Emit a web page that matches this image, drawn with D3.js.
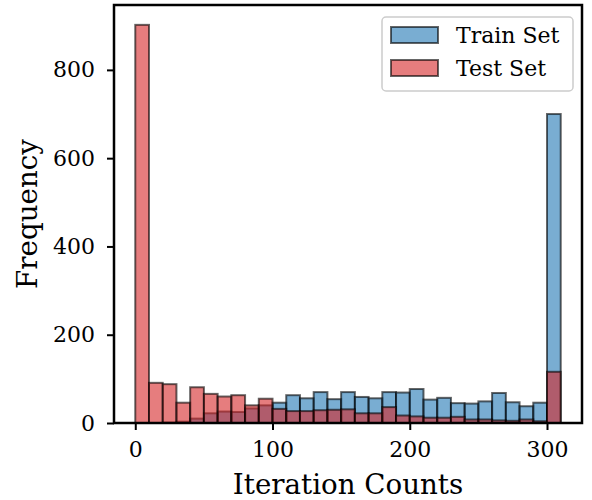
<!DOCTYPE html>
<html>
<head>
<meta charset="utf-8">
<script src="https://cdn.jsdelivr.net/npm/d3@7"></script>
<style>
  body { margin: 0; background: #fff; }
  text { font-family: "DejaVu Serif", serif; }
</style>
</head>
<body>
<svg id="chart"></svg>
<script>
// bin left edges (width 10)
var binStarts = [0,10,20,30,40,50,60,70,80,90,100,110,120,130,140,150,160,170,180,190,200,210,220,230,240,250,260,270,280,290,300];
var trainCounts = [0,0,1,3,10,22,26,25,33,40,46,63,56,70,54,70,59,56,70,69,77,53,57,45,44,49,68,47,38,46,700];
var testCounts = [902,91,88,46,81,66,60,63,40,55,32,27,27,29,30,31,22,22,36,17,15,12,12,14,8,8,6,5,8,4,116];
var xTicks = [0,100,200,300];
var yTicks = [0,200,400,600,800];
var seriesNames = ["Train Set","Test Set"];
var seriesColors = ["#1f77b4","#d62728"];
var binWidth = 10;

var W = 592, H = 500;
var margin = {top: 5, right: 10, bottom: 77, left: 114},
    width = W - margin.left - margin.right,
    height = H - margin.top - margin.bottom;

var svg = d3.select("#chart").attr("width", W).attr("height", H);
var g = svg.append("g")
    .attr("transform", "translate(" + margin.left + "," + margin.top + ")");

// set the ranges
var x = d3.scaleLinear().domain([-15.5, 325.5]).range([0, width]);
var y = d3.scaleLinear().domain([0, 947]).range([height, 0]);

// bars: train first, test drawn over it
[trainCounts, testCounts].forEach(function(counts, s) {
    g.selectAll(".bar" + s)
        .data(binStarts)
        .enter().append("rect")
        .attr("class", "bar" + s)
        .attr("x", function(d) { return x(d); })
        .attr("width", function(d) { return x(d + binWidth) - x(d); })
        .attr("y", function(d, i) { return y(counts[i]); })
        .attr("height", function(d, i) { return y(0) - y(counts[i]); })
        .attr("fill", seriesColors[s])
        .attr("fill-opacity", 0.6)
        .attr("stroke", "#000")
        .attr("stroke-opacity", 0.6)
        .attr("stroke-width", 2);
});

// axes
var xAxis = g.append("g")
    .attr("transform", "translate(0," + height + ")")
    .call(d3.axisBottom(x).tickValues(xTicks).tickSize(7).tickPadding(11));
var yAxis = g.append("g")
    .call(d3.axisLeft(y).tickValues(yTicks).tickSize(7).tickPadding(12));

[xAxis, yAxis].forEach(function(a) {
    a.select(".domain").remove();
    a.selectAll(".tick line").attr("stroke", "#000").attr("stroke-width", 2);
    a.selectAll(".tick text")
        .attr("fill", "#000")
        .style("font-size", "22px")
        .style("font-family", "DejaVu Serif");
});

// spines
g.append("rect")
    .attr("x", 0).attr("y", 0)
    .attr("width", width).attr("height", height)
    .attr("fill", "none")
    .attr("stroke", "#000")
    .attr("stroke-width", 2.5);

// axis labels
svg.append("text")
    .attr("x", margin.left + width / 2)
    .attr("y", 494)
    .attr("text-anchor", "middle")
    .style("font-size", "27.7px")
    .text("Iteration Counts");

svg.append("text")
    .attr("transform", "translate(36.5," + (margin.top + height / 2) + ") rotate(-90)")
    .attr("text-anchor", "middle")
    .style("font-size", "27.7px")
    .text("Frequency");

// legend
var lg = svg.append("g").attr("transform", "translate(382,17)");
lg.append("rect")
    .attr("width", 191).attr("height", 74)
    .attr("rx", 4)
    .attr("fill", "#fff").attr("fill-opacity", 0.8)
    .attr("stroke", "#ccc").attr("stroke-width", 1.5);

seriesNames.forEach(function(name, i) {
    var row = lg.append("g").attr("transform", "translate(9," + (10 + i * 33) + ")");
    row.append("rect")
        .attr("width", 47).attr("height", 16)
        .attr("fill", seriesColors[i]).attr("fill-opacity", 0.6)
        .attr("stroke", "#000").attr("stroke-opacity", 0.6)
        .attr("stroke-width", 2);
    row.append("text")
        .attr("x", 65).attr("y", 16)
        .style("font-size", "22px")
        .text(name);
});
</script>
</body>
</html>
